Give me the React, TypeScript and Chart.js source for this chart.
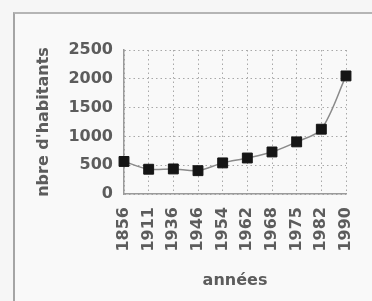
import React, { useEffect, useRef } from "react";
import { Chart, registerables } from "chart.js";

Chart.register(...registerables);

const years = ["1856", "1911", "1936", "1946", "1954", "1962", "1968", "1975", "1982", "1990"];
const habitants = [565, 430, 435, 405, 540, 625, 730, 905, 1125, 2050];
const yTicks = [0, 500, 1000, 1500, 2000, 2500];

const FONT = "'DejaVu Sans', sans-serif";
const TEXT = "#5c5c5c";

const verticalXLabels = {
  id: "verticalXLabels",
  afterDraw: (c: any) => {
    const s = c.scales.x;
    const ctx = c.ctx;
    ctx.save();
    ctx.fillStyle = TEXT;
    ctx.font = "bold 16px 'DejaVu Sans', sans-serif";
    ctx.textAlign = "right";
    ctx.textBaseline = "middle";
    s.ticks.forEach((t: any, i: number) => {
      const x = s.getPixelForTick(i);
      ctx.save();
      ctx.translate(x, s.top + 13);
      ctx.rotate(-Math.PI / 2);
      ctx.fillText(s.getLabelForValue(t.value), 0, 0);
      ctx.restore();
    });
    ctx.restore();
  },
};

export default function App() {
  const ref = useRef<HTMLCanvasElement>(null);

  useEffect(() => {
    const canvas = ref.current;
    if (!canvas) return;
    const chart = new Chart(canvas, {
      type: "line",
      data: {
        labels: years,
        datasets: [
          {
            data: habitants,
            borderColor: "#8a8a8a",
            borderWidth: 1.5,
            tension: 0.3,
            pointStyle: "rect",
            pointRadius: 7,
            pointBackgroundColor: "#151515",
            pointBorderColor: "#151515",
            pointBorderWidth: 1,
          },
        ],
      },
      options: {
        animation: false,
        responsive: false,
        maintainAspectRatio: false,
        layout: { padding: { left: 0, top: 50, right: 26, bottom: 0 } },
        plugins: { legend: { display: false }, tooltip: { enabled: false } },
        scales: {
          x: {
            offset: false,
            afterFit: (s: any) => {
              s.height = 107;
            },
            grid: {
              color: "#a8a8a8",
              lineWidth: 1,
              drawTicks: false,
            },
            border: { color: "#9a9a9a", width: 1.5, dash: [1.5, 3] },
            ticks: { display: false, autoSkip: false },
            title: {
              display: true,
              text: "années",
              color: TEXT,
              font: { family: FONT, size: 16, weight: "bold" },
              padding: { top: 0, bottom: 11 },
            },
          },
          y: {
            min: 0,
            max: 2500,
            afterFit: (s: any) => {
              s.width = 124;
            },
            afterBuildTicks: (s: any) => {
              s.ticks = yTicks.map((v) => ({ value: v }));
            },
            grid: { color: "#a8a8a8", lineWidth: 1, drawTicks: false },
            border: { color: "#9a9a9a", width: 1.5, dash: [1.5, 3] },
            ticks: {
              padding: 11,
              color: TEXT,
              font: { family: FONT, size: 16, weight: "bold" },
              callback: (v: any) => String(v),
            },
            title: {
              display: true,
              text: "nbre d'habitants",
              color: TEXT,
              font: { family: FONT, size: 16, weight: "bold" },
              padding: { top: 34, bottom: 0 },
            },
          },
        },
      },
      plugins: [verticalXLabels],
    });
    return () => chart.destroy();
  }, []);

  return (
    <div
      style={{
        position: "fixed",
        left: 0,
        top: 0,
        width: 372,
        height: 301,
        background: "#f6f6f6",
        overflow: "hidden",
      }}
    >
      <div
        style={{
          position: "absolute",
          left: 13,
          top: 12,
          width: 400,
          height: 320,
          borderLeft: "2px solid #a5a5a5",
          borderTop: "2px solid #b5b5b5",
          background: "#f9f9f9",
        }}
      />
      <canvas ref={ref} width={372} height={301} style={{ position: "absolute", left: 0, top: 0 }} />
    </div>
  );
}
